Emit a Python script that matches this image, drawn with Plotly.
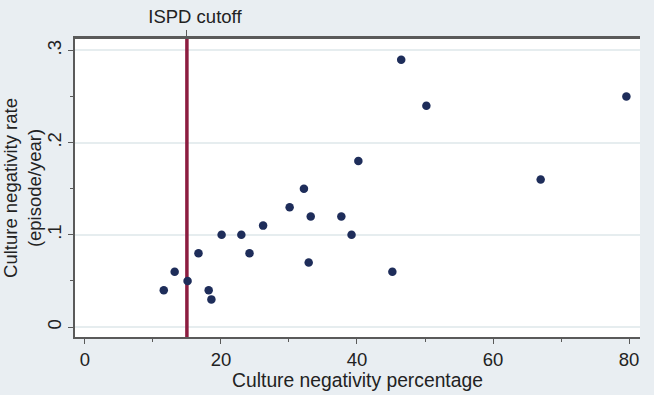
import plotly.graph_objects as go

# Data
pct = [11.6, 13.2, 15.1, 16.7, 18.2, 18.6, 20.1, 23.0, 24.2, 26.2, 30.1,
       32.2, 33.2, 32.9, 37.7, 39.2, 40.2, 45.2, 46.5, 50.2, 67.0, 79.6]
rate = [0.04, 0.06, 0.05, 0.08, 0.04, 0.03, 0.10, 0.10, 0.08, 0.11, 0.13,
        0.15, 0.12, 0.07, 0.12, 0.10, 0.18, 0.06, 0.29, 0.24, 0.16, 0.25]
cutoff = 15
cutoff_label = "ISPD cutoff"

x_ticks = [0, 20, 40, 60, 80]
x_minor = [10, 30, 50, 70]
y_ticks = [0, 0.1, 0.2, 0.3]
y_ticklabels = ["0", ".1", ".2", ".3"]
y_minor = [0.05, 0.15, 0.25]

x_range = [-1.45, 81.6]
y_range = [-0.0108, 0.3124]

BG = "#e9eef2"
AX = "#5a5a5a"
FONT = "Liberation Sans, Arial, sans-serif"
FS = 18.5

fig = go.Figure()
# cutoff line (drawn first, so markers sit on top)
fig.add_trace(go.Scatter(
    x=[cutoff, cutoff], y=y_range, mode="lines",
    line=dict(color="#8c1d40", width=3.5), showlegend=False, hoverinfo="skip",
))
fig.add_trace(go.Scatter(
    x=pct, y=rate, mode="markers",
    marker=dict(color="#1e2d5a", size=8.5, line=dict(width=0)),
    showlegend=False, hoverinfo="x+y",
))
# trace on top axis to activate it
fig.add_trace(go.Scatter(x=[cutoff], y=[None], xaxis="x2", mode="markers",
                         showlegend=False, hoverinfo="skip"))

fig.update_layout(
    width=654, height=395,
    paper_bgcolor=BG, plot_bgcolor="white",
    margin=dict(l=75, r=14, t=39, b=58),
    font=dict(family=FONT, size=FS, color="#222"),
    xaxis=dict(
        range=x_range, tickvals=x_ticks, ticktext=[str(v) for v in x_ticks],
        showline=True, linecolor=AX, linewidth=1.5, ticks="outside", ticklen=5,
        tickcolor=AX, tickwidth=1.2, showgrid=False, zeroline=False, automargin=False,
        minor=dict(tickvals=x_minor, ticks="outside", ticklen=3, tickcolor=AX, showgrid=False),
        title=dict(text="Culture negativity percentage", standoff=0, font=dict(size=19.3)),
        tickfont=dict(size=FS),
    ),
    xaxis2=dict(
        overlaying="x", side="top", range=x_range, tickvals=[cutoff],
        ticktext=[cutoff_label], showline=True, linecolor=AX, linewidth=2.5,
        ticks="outside", ticklen=6, tickcolor=AX, tickwidth=1.2, automargin=False,
        showgrid=False, zeroline=False, tickfont=dict(size=FS), ticklabelshift=8,
    ),
    yaxis=dict(
        range=y_range, tickvals=y_ticks, ticktext=y_ticklabels, tickangle=-90,
        showline=True, linecolor=AX, linewidth=1.5, ticks="outside", ticklen=5,
        tickcolor=AX, tickwidth=1.2, showgrid=True, gridcolor="#e6edef", gridwidth=1.5,
        zeroline=False, automargin=False,
        minor=dict(tickvals=y_minor, ticks="outside", ticklen=3, tickcolor=AX, showgrid=False),
        title=dict(text="Culture negativity rate<br>(episode/year)", standoff=0, font=dict(size=FS)),
        tickfont=dict(size=FS),
    ),
)

fig.write_html(
    "out.html",
    config={"displayModeBar": False},
    post_script="document.body.style.margin='0';document.body.style.padding='0';",
)
